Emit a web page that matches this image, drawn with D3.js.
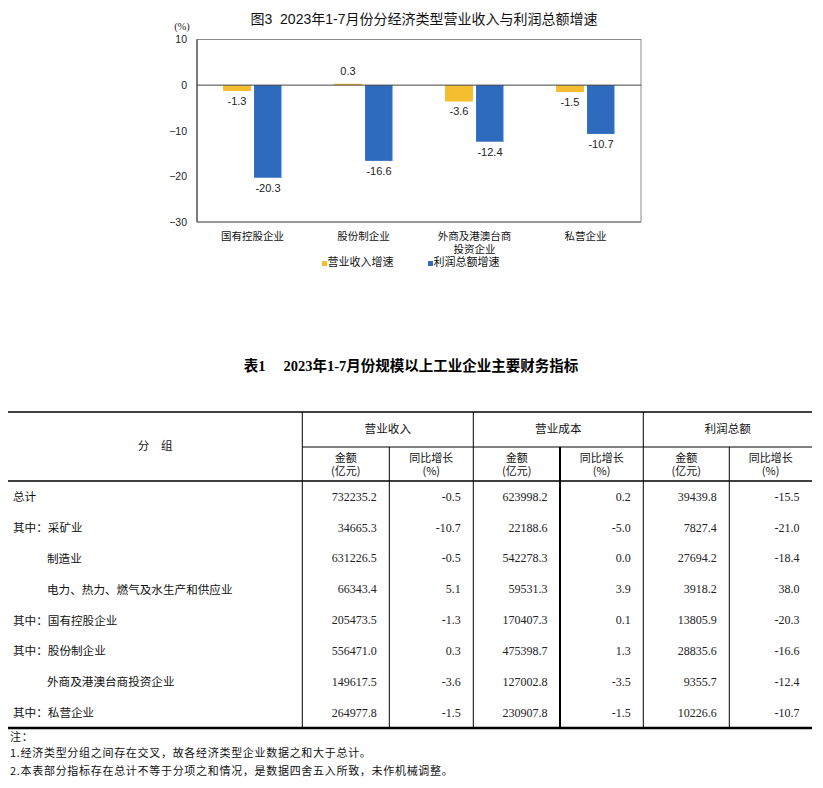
<!DOCTYPE html>
<html><head><meta charset="utf-8">
<script src="https://cdn.jsdelivr.net/npm/d3@7"></script>
<style>
html,body{margin:0;padding:0;background:#fff;}
svg{display:block;}
</style></head>
<body>
<svg id="c" width="823" height="788"></svg>
<script>
// ---------- chart data ----------
const chartTitle = "图3\u00a0\u00a02023年1-7月份分经济类型营业收入与利润总额增速";
const categories = ["国有控股企业", "股份制企业", "外商及港澳台商投资企业", "私营企业"];
const categoryLines = [["国有控股企业"], ["股份制企业"], ["外商及港澳台商", "投资企业"], ["私营企业"]];
const seriesNames = ["营业收入增速", "利润总额增速"];
const revenueGrowthSeries = [-1.3, 0.3, -3.6, -1.5];
const profitGrowthSeries = [-20.3, -16.6, -12.4, -10.7];
const yTicks = [10, 0, -10, -20, -30];
const yUnit = "(%)";

// ---------- table data ----------
const tableTitle = "表1\u3000 2023年1-7月份规模以上工业企业主要财务指标";
const groupHeader = "分　组";
const topHeaders = ["营业收入", "营业成本", "利润总额"];
const subHeaders = [["金额", "(亿元)"], ["同比增长", "(%)"]];
const rowLabels = ["总计", "其中：采矿业", "制造业", "电力、热力、燃气及水生产和供应业",
  "其中：国有控股企业", "其中：股份制企业", "外商及港澳台商投资企业", "其中：私营企业"];
const revenueAmount = ["732235.2", "34665.3", "631226.5", "66343.4", "205473.5", "556471.0", "149617.5", "264977.8"];
const revenueGrowth = ["-0.5", "-10.7", "-0.5", "5.1", "-1.3", "0.3", "-3.6", "-1.5"];
const costAmount = ["623998.2", "22188.6", "542278.3", "59531.3", "170407.3", "475398.7", "127002.8", "230907.8"];
const costGrowth = ["0.2", "-5.0", "0.0", "3.9", "0.1", "1.3", "-3.5", "-1.5"];
const profitAmount = ["39439.8", "7827.4", "27694.2", "3918.2", "13805.9", "28835.6", "9355.7", "10226.6"];
const profitGrowth = ["-15.5", "-21.0", "-18.4", "38.0", "-20.3", "-16.6", "-12.4", "-10.7"];
const notes = ["注：", "1.经济类型分组之间存在交叉，故各经济类型企业数据之和大于总计。",
  "2.本表部分指标存在总计不等于分项之和情况，是数据四舍五入所致，未作机械调整。"];

const svg = d3.select("#c");
const CJK = "'Noto Sans CJK SC','Noto Sans',sans-serif";
const SANS = "'Liberation Sans',Arial,'Noto Sans CJK SC',sans-serif";
const SERIF = "'Liberation Serif','Times New Roman','Noto Sans CJK SC',serif";
const colors = ["#F5BE30", "#2E6BBE"];

// ---------- chart ----------
const plot = {left: 197, right: 641, top: 39.5, bottom: 222};
const y = d3.scaleLinear().domain([-30, 10]).range([plot.bottom, plot.top]);
const x0 = d3.scaleBand().domain(categories).range([plot.left, plot.right]).padding(0);
const x1 = d3.scaleBand().domain(seriesNames).range([0, x0.bandwidth()]).paddingInner(0.1).paddingOuter(0.84);

svg.append("text").attr("x", 424).attr("y", 20).attr("text-anchor", "middle")
  .attr("dominant-baseline", "middle").attr("font-family", SANS).attr("font-size", 14)
  .attr("fill", "#111").text(chartTitle);

// plot frame
svg.append("rect").attr("x", plot.left).attr("y", plot.top)
  .attr("width", plot.right - plot.left).attr("height", plot.bottom - plot.top)
  .attr("fill", "none").attr("stroke", "#8a8a8a").attr("stroke-width", 1);
svg.append("line").attr("x1", plot.left).attr("x2", plot.right)
  .attr("y1", plot.bottom).attr("y2", plot.bottom).attr("stroke", "#999").attr("stroke-width", 2);
svg.append("line").attr("x1", plot.left).attr("x2", plot.left)
  .attr("y1", plot.top).attr("y2", plot.bottom).attr("stroke", "#333").attr("stroke-width", 1);

// y axis
const yAxis = d3.axisLeft(y).tickValues(yTicks).tickSize(0).tickPadding(10).tickFormat(d3.format("d"));
const ya = svg.append("g").attr("transform", `translate(${plot.left},0)`).call(yAxis);
ya.select(".domain").remove();
ya.selectAll("text").attr("font-family", SANS).attr("font-size", 10.5).attr("fill", "#222");
svg.append("text").attr("x", 182).attr("y", 28).attr("text-anchor", "middle")
  .attr("dominant-baseline", "middle").attr("font-family", SERIF).attr("font-size", 10.5)
  .attr("fill", "#222").text(yUnit);

const seriesData = [revenueGrowthSeries, profitGrowthSeries];
const groups = svg.append("g").selectAll("g").data(categories).join("g")
  .attr("transform", d => `translate(${x0(d)},0)`);
groups.selectAll("rect").data((d, i) => seriesNames.map((s, k) => ({s, k, v: seriesData[k][i]})))
  .join("rect")
  .attr("x", d => x1(d.s)).attr("width", x1.bandwidth())
  .attr("y", d => y(Math.max(0, d.v))).attr("height", d => Math.abs(y(d.v) - y(0)))
  .attr("fill", d => colors[d.k]);
// light edge on blue bars
groups.selectAll("line.edge").data((d, i) => [{v: seriesData[1][i]}]).join("line")
  .attr("class", "edge")
  .attr("x1", x1(seriesNames[1]) + x1.bandwidth() - 0.5).attr("x2", x1(seriesNames[1]) + x1.bandwidth() - 0.5)
  .attr("y1", y(0)).attr("y2", d => y(d.v)).attr("stroke", "#8EC0EE").attr("stroke-width", 1);
groups.selectAll("text").data((d, i) => seriesNames.map((s, k) => ({s, k, v: seriesData[k][i]})))
  .join("text")
  .attr("x", d => x1(d.s) + x1.bandwidth() / 2)
  .attr("y", d => d.v >= 0 ? y(d.v) - 12 : y(d.v) + 11)
  .attr("text-anchor", "middle").attr("dominant-baseline", "middle")
  .attr("font-family", SANS).attr("font-size", 11).attr("fill", "#222")
  .text(d => d.v.toFixed(1));

// zero line
svg.append("line").attr("x1", plot.left).attr("x2", plot.right)
  .attr("y1", y(0)).attr("y2", y(0)).attr("stroke", "#444").attr("stroke-width", 1);

// category labels (multi-line as tspans of one text)
categories.forEach((c, i) => {
  const cx = x0(c) + x0.bandwidth() / 2;
  const t = svg.append("text").attr("x", cx).attr("y", 237)
    .attr("text-anchor", "middle").attr("dominant-baseline", "middle")
    .attr("font-family", CJK).attr("font-size", 10.5).attr("fill", "#111");
  categoryLines[i].forEach((ln, j) => {
    t.append("tspan").attr("x", cx).attr("dy", j === 0 ? 0 : 12.5).text(ln);
  });
});

// legend
const legendX = [322, 428];
seriesNames.forEach((s, k) => {
  svg.append("rect").attr("x", legendX[k]).attr("y", 261).attr("width", 5).attr("height", 5).attr("fill", colors[k]);
  svg.append("text").attr("x", legendX[k] + 5.5).attr("y", 263.5).attr("dominant-baseline", "middle")
    .attr("font-family", CJK).attr("font-size", 11).attr("fill", "#111").text(s);
});

// ---------- table ----------
svg.append("text").attr("x", 411).attr("y", 368).attr("text-anchor", "middle")
  .attr("dominant-baseline", "middle").attr("font-family", SERIF).attr("font-weight", "bold")
  .attr("font-size", 14.5).attr("fill", "#000").text(tableTitle);

const T = {left: 8, right: 812, top: 412, mid: 447, head: 481, bottom: 728};
const colEdges = [T.left, 302.3, 389.3, 473.3, 560, 643.3, 729.3, T.right];
const rowY = d3.scaleBand().domain(d3.range(rowLabels.length)).range([T.head, T.bottom]);

const lines = svg.append("g").attr("stroke", "#000");
lines.append("line").attr("x1", T.left).attr("x2", T.right).attr("y1", T.top).attr("y2", T.top).attr("stroke-width", 1.6);
lines.append("line").attr("x1", colEdges[1]).attr("x2", T.right).attr("y1", T.mid).attr("y2", T.mid).attr("stroke-width", 1);
lines.append("line").attr("x1", T.left).attr("x2", T.right).attr("y1", T.head).attr("y2", T.head).attr("stroke-width", 1.3);
lines.append("line").attr("x1", T.left).attr("x2", T.right).attr("y1", T.bottom).attr("y2", T.bottom).attr("stroke-width", 2.6);
[1, 3, 5].forEach(i => lines.append("line").attr("x1", colEdges[i]).attr("x2", colEdges[i])
  .attr("y1", T.top).attr("y2", T.bottom).attr("stroke-width", 1));
[2, 4, 6].forEach(i => lines.append("line").attr("x1", colEdges[i]).attr("x2", colEdges[i])
  .attr("y1", T.mid).attr("y2", T.bottom).attr("stroke-width", i === 4 ? 2 : 1));

const headText = (x, yy, t, fs) => svg.append("text").attr("x", x).attr("y", yy)
  .attr("text-anchor", "middle").attr("dominant-baseline", "middle")
  .attr("font-family", CJK).attr("font-size", fs || 11.6).attr("fill", "#111").text(t);
headText((colEdges[0] + colEdges[1]) / 2, (T.top + T.head) / 2, groupHeader);
topHeaders.forEach((h, i) => headText((colEdges[1 + 2 * i] + colEdges[3 + 2 * i]) / 2, 430, h));
for (let c = 0; c < 6; c++) {
  const sh = subHeaders[c % 2];
  const cx = (colEdges[1 + c] + colEdges[2 + c]) / 2;
  const t = svg.append("text").attr("x", cx).attr("y", 458.5)
    .attr("text-anchor", "middle").attr("dominant-baseline", "middle")
    .attr("font-family", CJK).attr("font-size", 11).attr("fill", "#111");
  sh.forEach((ln, j) => t.append("tspan").attr("x", cx).attr("dy", j === 0 ? 0 : 13.5).text(ln));
}

const cols = [revenueAmount, revenueGrowth, costAmount, costGrowth, profitAmount, profitGrowth];
const body = svg.append("g");
rowLabels.forEach((lab, r) => {
  const cy = rowY(r) + rowY.bandwidth() / 2 + 1.5;
  const outer = lab === "总计" || lab.startsWith("其中");
  body.append("text").attr("x", outer ? 13 : 47).attr("y", cy).attr("dominant-baseline", "middle")
    .attr("font-family", CJK).attr("font-size", 11.6).attr("fill", "#111").text(lab);
  cols.forEach((col, c) => {
    body.append("text").attr("x", colEdges[2 + c] - 12.5).attr("y", cy)
      .attr("text-anchor", "end").attr("dominant-baseline", "middle")
      .attr("font-family", SERIF).attr("font-size", 12).attr("fill", "#222").text(col[r]);
  });
});

// notes
notes.forEach((n, i) => {
  svg.append("text").attr("x", 10).attr("y", [738, 754, 772][i]).attr("dominant-baseline", "middle")
    .attr("font-family", CJK).attr("font-size", 11).attr("letter-spacing", 0.7)
    .attr("fill", "#111").text(n);
});
</script>
</body></html>
